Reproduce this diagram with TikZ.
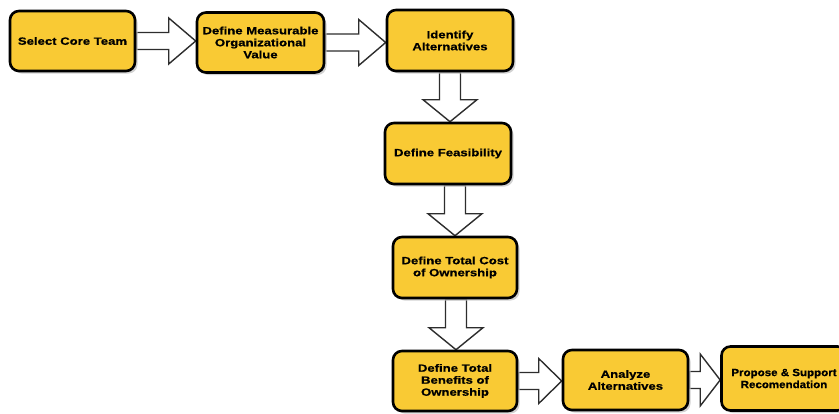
\documentclass[tikz,border=0pt]{standalone}
\usepackage{fontspec}
\newfontfamily\boxfont[FakeStretch=1.25, BoldFeatures={FakeBold=0.6}]{Liberation Sans}
\newfontfamily\boxfontnarrow[FakeStretch=1.1, BoldFeatures={FakeBold=0.6}]{Liberation Sans}
\usetikzlibrary{calc,shadows,backgrounds}
\definecolor{stepfill}{RGB}{249,202,52}
\definecolor{arrowline}{RGB}{45,45,45}

% block arrow pointing right, from the east side of #1 to the west side of #2
\newcommand\rightblock[4]{% #1 from, #2 to, #3 head half-width, #4 head length
  \draw[blockarrow]
    ($(#1.east)+(0,-8.5)$) -- ($(#1.east -| #2.west)+(-#4,-8.5)$)
    -- ($(#1.east -| #2.west)+(-#4,-#3)$) -- (#1.east -| #2.west)
    -- ($(#1.east -| #2.west)+(-#4,#3)$) -- ($(#1.east -| #2.west)+(-#4,8.5)$)
    -- ($(#1.east)+(0,8.5)$) -- cycle;}
% block arrow pointing down, at horizontal position of coordinate #3
\newcommand\downblock[3]{% #1 from, #2 to, #3 axis point
  \draw[blockarrow]
    ($(#3 |- #1.south)+(-10.5,0)$) -- ($(#3 |- #2.north)+(-10.5,-22)$)
    -- ($(#3 |- #2.north)+(-27,-22)$) -- (#3 |- #2.north)
    -- ($(#3 |- #2.north)+(27,-22)$) -- ($(#3 |- #2.north)+(10.5,-22)$)
    -- ($(#3 |- #1.south)+(10.5,0)$) -- cycle;}

\tikzset{
  stepbox/.style={draw=black, line width=2.6pt, fill=stepfill, rounded corners=9pt,
    minimum width=125pt, minimum height=60pt, align=center, inner sep=2pt,
    font=\boxfont\bfseries\fontsize{10.5}{12}\selectfont,
    drop shadow={shadow xshift=2.5pt, shadow yshift=-2.5pt, fill=black!22, opacity=0.8}},
  blockarrow/.style={draw=arrowline, line width=1.4pt, fill=white, line join=miter}
}

\begin{document}
\begin{tikzpicture}[x=1pt, y=-1pt]
  \useasboundingbox (0,0) rectangle (839,413);
  \clip (0,0) rectangle (839,413);

  % axes of the vertical arrows
  \coordinate (ax1) at (450,0);
  \coordinate (ax2) at (455,0);
  \coordinate (ax3) at (456,0);

  % process steps
  \path
    (72.5,41)   node[stepbox] (b1) {Select Core Team}
    (260.5,42.5) node[stepbox, minimum width=127pt] (b2) {Define Measurable\\Organizational\\Value}
    (450,40.5)  node[stepbox, minimum width=126pt, minimum height=61pt] (b3) {Identify\\Alternatives}
    (448,153.5) node[stepbox, minimum width=126pt, minimum height=61pt] (b4) {Define Feasibility}
    (455,267.5) node[stepbox, minimum width=124pt, minimum height=61pt] (b5) {Define Total Cost\\of Ownership}
    (455,381)   node[stepbox, minimum width=124pt] (b6) {Define Total\\Benefits of\\Ownership}
    (625.5,380) node[stepbox] (b7) {Analyze\\Alternatives}
    (784,378.5) node[stepbox, minimum height=64pt,
                     font=\boxfontnarrow\bfseries\fontsize{10.5}{12}\selectfont] (b8)
                     {Propose \& Support\\Recomendation};

  % connectors, behind the boxes
  \begin{pgfonlayer}{background}
    \rightblock{b1}{b2}{23}{27}
    \rightblock{b2}{b3}{23}{27}
    \downblock{b3}{b4}{ax1}
    \downblock{b4}{b5}{ax2}
    \downblock{b5}{b6}{ax3}
    \rightblock{b6}{b7}{22.5}{23}
    \rightblock{b7}{b8}{26}{20}
  \end{pgfonlayer}
\end{tikzpicture}
\end{document}
